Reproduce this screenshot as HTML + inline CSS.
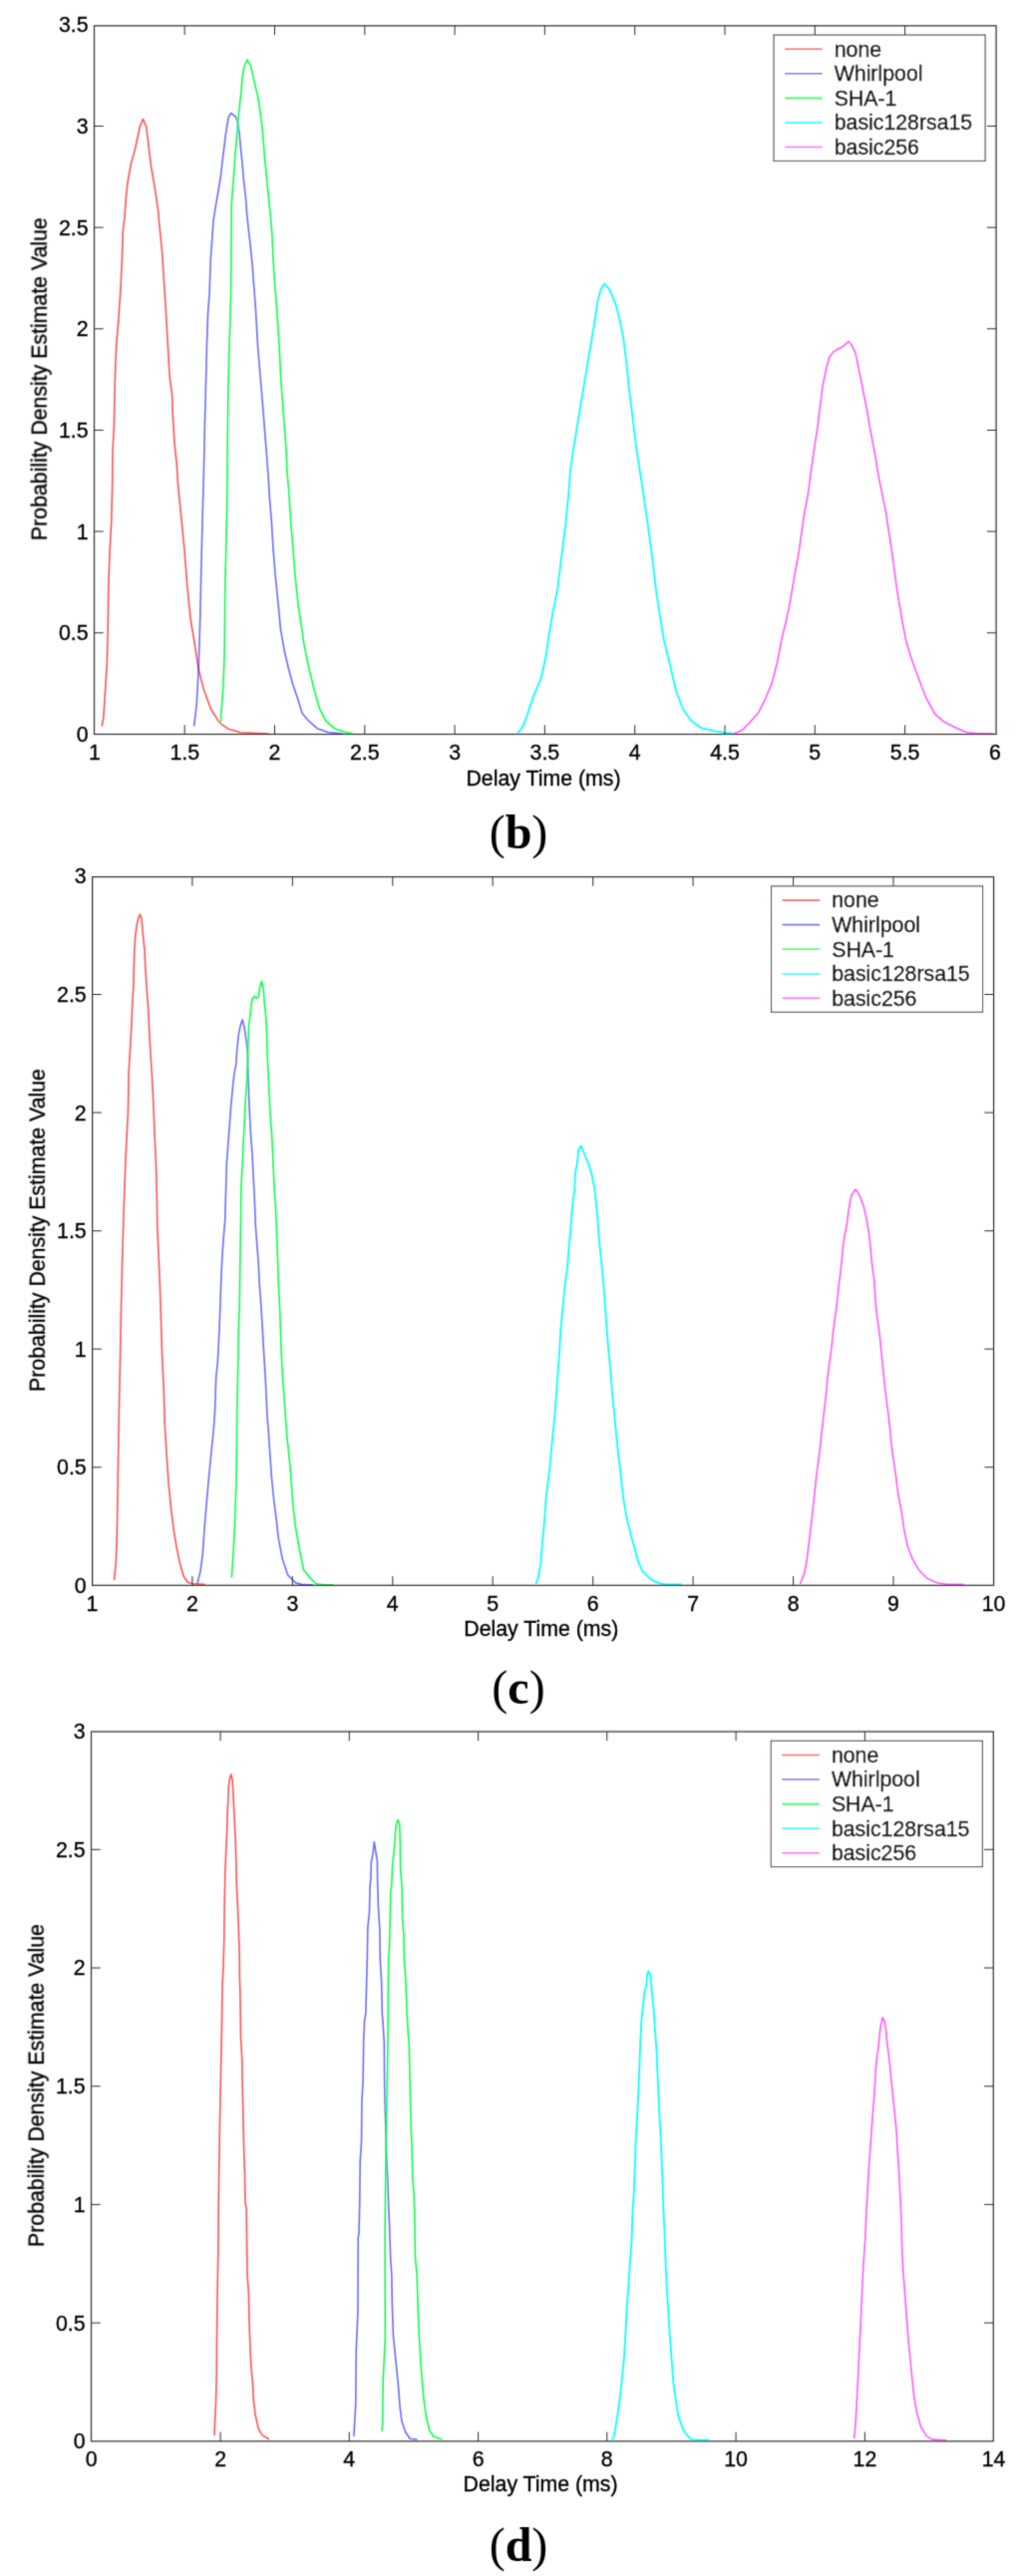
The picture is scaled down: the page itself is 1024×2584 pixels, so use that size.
<!DOCTYPE html>
<html><head><meta charset="utf-8"><style>
html,body{margin:0;padding:0;background:#fff;}
svg{display:block;will-change:transform;}
text{font-family:"Liberation Sans",sans-serif;font-size:21.3px;fill:#000;stroke:#000;stroke-width:0.35px;}
text.cap{font-family:"Liberation Serif",serif;font-size:48px;font-weight:bold;stroke:none;}
</style></head><body>
<svg width="1024" height="2584" viewBox="0 0 1024 2584">
<defs><filter id="bl" x="0" y="0" width="1" height="1" filterUnits="objectBoundingBox"><feConvolveMatrix order="3" kernelMatrix="0.0196 0.1008 0.0196 0.1008 0.5184 0.1008 0.0196 0.1008 0.0196" divisor="1" edgeMode="none" preserveAlpha="false"/></filter></defs>
<rect width="1024" height="2584" fill="#fff"/>
<g filter="url(#bl)">
<polyline points="102.1,728.6 103.8,719.8 105.6,691.6 107.3,665.1 108.2,629.9 108.8,589.3 110.0,554.0 111.7,524.1 112.7,485.0 112.9,454.5 114.4,426.3 115.0,393.4 115.9,362.9 116.7,346.4 118.5,325.3 120.6,295.0 122.3,262.2 123.2,232.8 125.0,217.5 126.7,194.0 128.5,179.9 131.4,164.1 135.5,149.4 140.3,127.0 143.4,119.4 146.7,127.0 149.1,147.0 151.4,165.8 155.0,187.0 158.5,210.5 160.2,229.3 162.6,252.8 164.3,280.0 166.1,308.0 168.5,348.8 170.2,378.2 172.6,395.8 173.2,414.6 174.9,442.8 177.3,466.3 178.4,485.0 181.4,515.3 184.9,550.5 187.6,585.8 191.1,621.0 195.5,647.5 199.0,670.4 204.3,691.6 211.4,711.0 220.2,725.1 229.0,731.2 241.3,734.8 269.5,736.0" fill="none" stroke="#ff0000" stroke-width="1.6" stroke-opacity="0.68" stroke-linejoin="round"/>
<polyline points="194.6,728.6 197.3,705.7 199.0,673.9 199.9,647.5 200.8,617.5 201.7,575.2 202.9,525.8 204.2,480.0 205.2,433.9 206.3,390.8 207.4,347.7 208.5,315.4 210.1,293.9 211.2,261.5 212.0,249.8 213.0,236.1 214.0,221.4 216.0,208.7 218.9,192.0 221.3,177.3 223.3,159.7 224.8,147.9 226.2,136.2 227.7,126.4 229.2,117.6 231.6,113.5 236.0,116.6 238.5,122.5 240.0,133.3 241.4,147.9 242.9,162.6 244.4,180.3 246.3,196.9 247.8,216.5 249.7,234.1 251.0,245.0 253.2,266.9 256.4,310.0 258.6,347.7 261.3,380.1 264.0,412.4 266.1,439.3 268.9,475.0 270.2,496.9 272.4,523.9 274.0,550.8 276.2,577.7 278.9,604.7 281.5,631.6 285.3,653.2 289.1,669.3 293.4,685.5 298.8,701.6 303.1,715.6 309.6,723.2 318.2,730.7 329.0,734.5 344.0,736.1" fill="none" stroke="#0000ff" stroke-width="1.6" stroke-opacity="0.58" stroke-linejoin="round"/>
<polyline points="221.1,725.1 223.7,691.6 225.1,656.3 225.8,585.8 227.2,531.1 227.9,480.0 228.2,444.7 228.9,390.8 230.0,347.7 231.6,293.9 231.9,249.8 232.1,206.7 233.6,187.1 235.1,167.5 236.0,152.8 237.5,138.1 238.5,123.5 240.0,108.8 241.9,92.1 242.9,79.4 244.8,66.7 248.0,59.8 251.7,66.7 255.6,84.3 258.6,97.0 260.5,108.8 262.5,123.5 263.9,138.1 265.4,157.7 267.4,177.3 269.3,196.9 271.3,216.5 272.8,234.1 273.3,245.0 274.7,272.3 278.0,315.4 280.1,347.7 281.7,380.1 284.4,417.8 286.6,444.7 288.1,475.0 289.6,491.5 291.8,523.9 293.9,550.8 296.1,577.7 298.8,604.7 302.0,626.2 305.2,647.8 309.6,669.3 314.9,690.9 320.3,710.3 326.8,723.2 335.4,730.7 346.2,734.5 353.7,735.9" fill="none" stroke="#00ff40" stroke-width="1.6" stroke-opacity="0.95" stroke-linejoin="round"/>
<polyline points="519.1,735.6 523.8,729.8 528.5,718.0 535.6,696.9 542.6,680.4 547.3,659.3 550.8,635.7 554.4,614.6 559.1,591.1 562.6,562.9 567.3,525.3 570.3,495.0 571.8,473.7 574.4,454.6 577.6,435.5 580.7,416.4 583.9,397.3 587.1,378.2 590.3,359.1 593.5,340.0 596.7,320.9 599.2,303.1 602.4,290.4 606.2,284.6 611.3,290.4 617.7,305.7 621.5,320.9 625.3,340.0 628.5,365.5 631.0,391.0 634.2,416.4 638.0,448.3 641.9,473.7 645.3,495.0 649.6,525.3 654.3,560.5 657.8,591.1 661.3,614.6 666.0,642.8 671.9,666.3 677.8,692.2 684.8,711.0 693.1,722.7 702.5,729.8 716.6,733.3 728.3,735.2 735.4,735.6" fill="none" stroke="#00ffff" stroke-width="1.8" stroke-opacity="0.95" stroke-linejoin="round"/>
<polyline points="736.0,735.9 744.2,732.6 752.4,724.3 760.7,714.7 767.5,701.0 774.4,684.6 779.9,662.6 784.0,640.7 788.1,624.2 792.2,605.0 796.3,580.3 801.3,552.9 804.0,533.7 806.3,517.0 810.4,495.5 812.9,476.4 815.5,457.3 817.4,444.6 819.9,429.3 821.8,412.8 823.4,400.0 825.0,387.3 828.2,372.0 831.4,359.3 835.8,352.9 840.9,349.7 846.0,347.2 850.9,342.5 853.7,345.3 857.5,352.9 859.4,360.6 861.3,370.7 863.8,382.2 866.4,396.2 869.6,411.5 872.1,426.8 874.7,440.8 877.9,457.3 879.8,470.0 882.9,486.6 886.1,501.9 888.7,514.6 890.4,527.0 893.7,547.4 899.2,588.6 904.6,621.5 908.8,643.4 912.9,657.1 919.7,676.3 928.0,698.3 937.6,716.1 947.2,724.3 958.1,729.8 969.1,734.5 980.1,735.9 996.5,735.9" fill="none" stroke="#ff00ff" stroke-width="1.6" stroke-opacity="0.65" stroke-linejoin="round"/>
<rect x="94.5" y="25.8" width="904.6" height="710.7" fill="none" stroke="#2a2a2a" stroke-width="1.2"/>
<text x="94.9" y="761.7" text-anchor="middle">1</text>
<path d="M185.2,736.45V727.25M185.2,25.8V35.0" stroke="#2a2a2a" stroke-width="1"/>
<text x="185.2" y="761.7" text-anchor="middle">1.5</text>
<path d="M275.5,736.45V727.25M275.5,25.8V35.0" stroke="#2a2a2a" stroke-width="1"/>
<text x="275.5" y="761.7" text-anchor="middle">2</text>
<path d="M365.8,736.45V727.25M365.8,25.8V35.0" stroke="#2a2a2a" stroke-width="1"/>
<text x="365.8" y="761.7" text-anchor="middle">2.5</text>
<path d="M456.1,736.45V727.25M456.1,25.8V35.0" stroke="#2a2a2a" stroke-width="1"/>
<text x="456.1" y="761.7" text-anchor="middle">3</text>
<path d="M546.4,736.45V727.25M546.4,25.8V35.0" stroke="#2a2a2a" stroke-width="1"/>
<text x="546.4" y="761.7" text-anchor="middle">3.5</text>
<path d="M636.7,736.45V727.25M636.7,25.8V35.0" stroke="#2a2a2a" stroke-width="1"/>
<text x="636.7" y="761.7" text-anchor="middle">4</text>
<path d="M727.0,736.45V727.25M727.0,25.8V35.0" stroke="#2a2a2a" stroke-width="1"/>
<text x="727.0" y="761.7" text-anchor="middle">4.5</text>
<path d="M817.3,736.45V727.25M817.3,25.8V35.0" stroke="#2a2a2a" stroke-width="1"/>
<text x="817.3" y="761.7" text-anchor="middle">5</text>
<path d="M907.6,736.45V727.25M907.6,25.8V35.0" stroke="#2a2a2a" stroke-width="1"/>
<text x="907.6" y="761.7" text-anchor="middle">5.5</text>
<text x="997.9" y="761.7" text-anchor="middle">6</text>
<text x="88.6" y="743.9" text-anchor="end">0</text>
<path d="M94.5,634.8H103.7M999.1,634.8H989.9" stroke="#2a2a2a" stroke-width="1"/>
<text x="88.6" y="642.2" text-anchor="end">0.5</text>
<path d="M94.5,533.1H103.7M999.1,533.1H989.9" stroke="#2a2a2a" stroke-width="1"/>
<text x="88.6" y="540.5" text-anchor="end">1</text>
<path d="M94.5,431.5H103.7M999.1,431.5H989.9" stroke="#2a2a2a" stroke-width="1"/>
<text x="88.6" y="438.9" text-anchor="end">1.5</text>
<path d="M94.5,329.8H103.7M999.1,329.8H989.9" stroke="#2a2a2a" stroke-width="1"/>
<text x="88.6" y="337.2" text-anchor="end">2</text>
<path d="M94.5,228.2H103.7M999.1,228.2H989.9" stroke="#2a2a2a" stroke-width="1"/>
<text x="88.6" y="235.6" text-anchor="end">2.5</text>
<path d="M94.5,126.5H103.7M999.1,126.5H989.9" stroke="#2a2a2a" stroke-width="1"/>
<text x="88.6" y="133.9" text-anchor="end">3</text>
<text x="88.6" y="32.2" text-anchor="end">3.5</text>
<text x="545.0" y="787.9" text-anchor="middle">Delay Time (ms)</text>
<text transform="translate(46.7,380.2) rotate(-90)" text-anchor="middle">Probability Density Estimate Value</text>
<rect x="776.1" y="35.1" width="212.0" height="126.3" fill="#fff" stroke="#2a2a2a" stroke-width="1"/>
<path d="M787.1,49.3H824.7" stroke="#ff0000" stroke-width="1.6" stroke-opacity="0.68"/>
<text x="836.7" y="56.6">none</text>
<path d="M787.1,73.8H824.7" stroke="#0000ff" stroke-width="1.6" stroke-opacity="0.58"/>
<text x="836.7" y="81.1">Whirlpool</text>
<path d="M787.1,98.4H824.7" stroke="#00ff40" stroke-width="1.6" stroke-opacity="0.95"/>
<text x="836.7" y="105.7">SHA-1</text>
<path d="M787.1,123.0H824.7" stroke="#00ffff" stroke-width="1.8" stroke-opacity="0.95"/>
<text x="836.7" y="130.2">basic128rsa15</text>
<path d="M787.1,147.5H824.7" stroke="#ff00ff" stroke-width="1.6" stroke-opacity="0.65"/>
<text x="836.7" y="154.8">basic256</text>
<text class="cap" x="520" y="851" text-anchor="middle"><tspan font-weight="normal">(</tspan>b<tspan font-weight="normal">)</tspan></text>
<polyline points="114.5,1585.0 116.2,1567.8 117.2,1544.1 117.8,1510.7 118.5,1465.4 119.4,1413.7 120.4,1370.0 121.2,1325.0 122.5,1268.7 123.4,1237.8 124.2,1211.4 125.1,1186.7 126.0,1162.9 127.3,1136.4 128.4,1115.0 129.1,1076.3 130.4,1054.3 131.7,1032.2 132.6,1010.2 133.9,988.2 134.4,966.1 134.8,952.9 135.7,939.7 137.0,929.1 138.8,920.3 140.5,917.2 141.9,921.2 143.2,935.3 145.0,952.9 145.8,970.5 147.2,992.6 148.9,1014.6 149.8,1036.6 151.1,1058.7 152.5,1080.7 153.8,1106.0 155.1,1139.1 156.4,1167.3 157.3,1198.2 157.7,1228.1 159.1,1259.9 160.4,1290.7 161.5,1325.0 162.5,1357.7 164.1,1390.0 165.2,1427.7 166.8,1454.7 169.0,1487.0 171.6,1513.9 174.3,1535.5 177.0,1551.6 180.3,1567.8 184.0,1580.7 188.3,1587.2 193.7,1588.8 205.6,1589.3" fill="none" stroke="#ff0000" stroke-width="1.6" stroke-opacity="0.68" stroke-linejoin="round"/>
<polyline points="197.8,1588.7 201.0,1576.1 203.3,1558.9 204.9,1535.4 207.2,1507.2 209.6,1480.5 211.9,1457.0 214.3,1433.5 215.6,1415.0 216.7,1381.0 218.1,1369.2 219.1,1351.6 220.1,1330.1 221.1,1303.6 222.0,1278.1 223.0,1258.6 224.0,1243.9 225.7,1224.3 226.5,1195.0 227.4,1165.9 228.9,1146.3 230.4,1126.7 231.8,1107.1 233.3,1092.4 234.8,1077.7 236.7,1067.9 237.7,1053.3 239.2,1038.6 241.1,1028.8 243.1,1022.9 245.1,1030.7 247.0,1043.5 248.5,1058.1 249.0,1077.7 249.5,1097.3 250.4,1116.9 251.4,1136.5 252.9,1156.1 253.9,1175.7 254.9,1195.0 255.6,1209.6 256.3,1229.2 257.8,1248.8 259.3,1268.4 260.2,1287.9 261.7,1307.5 263.2,1332.0 264.6,1356.5 266.1,1381.0 267.1,1400.6 268.0,1420.0 269.1,1433.5 270.7,1457.0 272.3,1480.5 274.6,1504.0 277.0,1522.8 279.3,1543.2 283.2,1563.6 288.7,1580.0 296.6,1587.9 302.8,1589.4 313.8,1589.9" fill="none" stroke="#0000ff" stroke-width="1.6" stroke-opacity="0.58" stroke-linejoin="round"/>
<polyline points="232.3,1582.4 233.9,1558.9 235.4,1530.7 237.0,1485.2 237.8,1415.0 238.7,1369.2 239.2,1336.9 240.2,1309.5 240.9,1260.5 241.6,1219.4 241.8,1195.0 242.1,1185.5 243.1,1165.9 244.1,1146.3 245.1,1126.7 246.0,1107.1 247.5,1087.5 248.2,1067.9 248.8,1048.4 249.5,1028.8 250.9,1019.0 251.9,1009.2 252.9,1002.3 254.8,999.4 257.3,1001.3 259.3,999.4 260.7,989.6 262.5,984.2 264.2,991.5 265.1,1004.3 266.6,1019.0 267.6,1038.6 268.1,1058.1 269.1,1077.7 270.0,1097.3 271.0,1116.9 272.5,1136.5 273.5,1156.1 274.4,1175.7 275.2,1195.0 276.4,1209.6 277.4,1234.1 278.4,1258.6 279.3,1287.9 280.8,1317.3 281.8,1346.7 282.8,1371.2 284.2,1390.8 285.6,1412.0 287.9,1441.3 291.1,1472.7 293.4,1504.0 295.8,1527.5 299.7,1551.0 304.4,1574.5 310.7,1582.4 316.9,1588.7 324.8,1589.9 335.0,1589.9" fill="none" stroke="#00ff40" stroke-width="1.6" stroke-opacity="0.95" stroke-linejoin="round"/>
<polyline points="537.5,1589.0 540.0,1581.6 542.5,1566.6 544.2,1544.9 545.8,1528.3 547.5,1503.3 550.0,1483.3 551.8,1468.0 554.2,1440.8 556.4,1419.3 558.0,1397.7 559.6,1376.2 561.2,1354.6 562.3,1333.1 564.5,1311.5 566.0,1295.0 567.5,1281.6 569.1,1271.1 570.6,1250.1 572.2,1234.4 573.3,1218.7 574.8,1203.0 576.4,1192.5 576.9,1176.8 579.0,1166.3 580.1,1153.7 582.5,1149.5 584.3,1152.6 587.4,1161.0 590.6,1168.4 593.7,1178.8 596.3,1192.5 597.9,1208.2 599.5,1223.9 600.5,1239.6 602.1,1255.4 603.7,1271.1 605.3,1288.0 607.0,1311.5 608.6,1333.1 610.3,1354.6 612.4,1376.2 614.0,1397.7 616.2,1419.3 618.3,1440.8 620.5,1462.4 622.2,1475.0 623.2,1486.7 625.7,1506.6 629.1,1524.9 633.2,1541.6 637.4,1556.6 640.7,1568.2 644.9,1576.6 651.5,1583.2 659.9,1587.9 668.2,1589.5 684.0,1589.5" fill="none" stroke="#00ffff" stroke-width="1.8" stroke-opacity="0.95" stroke-linejoin="round"/>
<polyline points="802.5,1589.0 806.7,1578.1 809.2,1564.8 811.7,1544.8 814.2,1523.2 816.6,1501.6 819.1,1478.2 821.6,1459.9 824.1,1436.6 826.6,1415.0 828.8,1395.0 830.1,1380.8 832.0,1366.1 834.0,1351.4 835.5,1336.7 837.4,1322.0 839.4,1307.3 840.9,1292.6 842.8,1277.9 844.3,1263.3 845.7,1248.6 847.2,1238.8 849.2,1229.0 851.1,1214.3 852.6,1205.5 854.1,1198.6 857.7,1193.2 860.4,1195.7 863.4,1202.5 866.3,1210.4 868.3,1219.2 870.2,1229.0 871.7,1238.8 873.2,1253.5 874.6,1268.1 876.6,1282.8 877.6,1297.5 878.6,1312.2 880.5,1326.9 882.5,1341.6 884.4,1361.2 886.4,1380.8 887.9,1395.0 889.9,1410.0 892.4,1431.6 894.9,1456.6 898.2,1478.2 900.7,1498.2 904.1,1516.5 906.6,1533.2 909.9,1549.8 914.9,1563.2 921.5,1574.8 929.9,1583.1 939.9,1587.8 949.8,1589.3 966.5,1589.3" fill="none" stroke="#ff00ff" stroke-width="1.6" stroke-opacity="0.65" stroke-linejoin="round"/>
<rect x="92.6" y="879.6" width="904.0" height="710.7" fill="none" stroke="#2a2a2a" stroke-width="1.2"/>
<text x="92.5" y="1615.5" text-anchor="middle">1</text>
<path d="M192.9,1590.3V1581.1M192.9,879.6V888.8000000000001" stroke="#2a2a2a" stroke-width="1"/>
<text x="192.9" y="1615.5" text-anchor="middle">2</text>
<path d="M293.4,1590.3V1581.1M293.4,879.6V888.8000000000001" stroke="#2a2a2a" stroke-width="1"/>
<text x="293.4" y="1615.5" text-anchor="middle">3</text>
<path d="M393.8,1590.3V1581.1M393.8,879.6V888.8000000000001" stroke="#2a2a2a" stroke-width="1"/>
<text x="393.8" y="1615.5" text-anchor="middle">4</text>
<path d="M494.2,1590.3V1581.1M494.2,879.6V888.8000000000001" stroke="#2a2a2a" stroke-width="1"/>
<text x="494.2" y="1615.5" text-anchor="middle">5</text>
<path d="M594.7,1590.3V1581.1M594.7,879.6V888.8000000000001" stroke="#2a2a2a" stroke-width="1"/>
<text x="594.7" y="1615.5" text-anchor="middle">6</text>
<path d="M695.1,1590.3V1581.1M695.1,879.6V888.8000000000001" stroke="#2a2a2a" stroke-width="1"/>
<text x="695.1" y="1615.5" text-anchor="middle">7</text>
<path d="M795.6,1590.3V1581.1M795.6,879.6V888.8000000000001" stroke="#2a2a2a" stroke-width="1"/>
<text x="795.6" y="1615.5" text-anchor="middle">8</text>
<path d="M896.0,1590.3V1581.1M896.0,879.6V888.8000000000001" stroke="#2a2a2a" stroke-width="1"/>
<text x="896.0" y="1615.5" text-anchor="middle">9</text>
<text x="996.5" y="1615.5" text-anchor="middle">10</text>
<text x="86.7" y="1597.7" text-anchor="end">0</text>
<path d="M92.6,1471.8H101.8M996.6,1471.8H987.4" stroke="#2a2a2a" stroke-width="1"/>
<text x="86.7" y="1479.2" text-anchor="end">0.5</text>
<path d="M92.6,1353.2H101.8M996.6,1353.2H987.4" stroke="#2a2a2a" stroke-width="1"/>
<text x="86.7" y="1360.6" text-anchor="end">1</text>
<path d="M92.6,1234.7H101.8M996.6,1234.7H987.4" stroke="#2a2a2a" stroke-width="1"/>
<text x="86.7" y="1242.1" text-anchor="end">1.5</text>
<path d="M92.6,1116.1H101.8M996.6,1116.1H987.4" stroke="#2a2a2a" stroke-width="1"/>
<text x="86.7" y="1123.5" text-anchor="end">2</text>
<path d="M92.6,997.5H101.8M996.6,997.5H987.4" stroke="#2a2a2a" stroke-width="1"/>
<text x="86.7" y="1004.9" text-anchor="end">2.5</text>
<text x="86.7" y="886.4" text-anchor="end">3</text>
<text x="542.8" y="1641.1" text-anchor="middle">Delay Time (ms)</text>
<text transform="translate(44.8,1233.95) rotate(-90)" text-anchor="middle">Probability Density Estimate Value</text>
<rect x="773.6" y="888.9" width="212.0" height="126.3" fill="#fff" stroke="#2a2a2a" stroke-width="1"/>
<path d="M784.6,903.1H822.2" stroke="#ff0000" stroke-width="1.6" stroke-opacity="0.68"/>
<text x="834.2" y="910.4">none</text>
<path d="M784.6,927.6H822.2" stroke="#0000ff" stroke-width="1.6" stroke-opacity="0.58"/>
<text x="834.2" y="934.9">Whirlpool</text>
<path d="M784.6,952.2H822.2" stroke="#00ff40" stroke-width="1.6" stroke-opacity="0.95"/>
<text x="834.2" y="959.5">SHA-1</text>
<path d="M784.6,976.8H822.2" stroke="#00ffff" stroke-width="1.8" stroke-opacity="0.95"/>
<text x="834.2" y="984.0">basic128rsa15</text>
<path d="M784.6,1001.3H822.2" stroke="#ff00ff" stroke-width="1.6" stroke-opacity="0.65"/>
<text x="834.2" y="1008.6">basic256</text>
<text class="cap" x="520" y="1708.5" text-anchor="middle"><tspan font-weight="normal">(</tspan>c<tspan font-weight="normal">)</tspan></text>
<polyline points="215.0,2442.9 215.5,2430.2 216.5,2410.8 217.3,2379.8 217.5,2345.8 218.0,2302.1 218.9,2253.5 219.2,2210.0 220.4,2132.3 221.4,2083.2 222.3,2038.6 223.0,1993.9 224.1,1970.4 224.8,1943.6 225.0,1921.3 225.4,1898.9 225.9,1876.6 226.8,1854.3 227.7,1836.4 228.1,1818.6 228.8,1805.2 229.3,1791.8 230.4,1784.6 231.7,1779.7 233.0,1784.6 233.8,1796.3 234.4,1809.6 235.3,1827.5 236.2,1845.4 236.8,1867.7 237.3,1890.0 238.4,1912.3 239.3,1934.6 240.2,1961.4 240.4,1985.0 240.9,2000.2 241.5,2043.0 242.7,2065.4 243.6,2110.0 244.6,2154.6 245.5,2181.4 246.0,2210.0 247.1,2214.7 247.6,2248.7 248.1,2282.7 249.5,2302.1 250.0,2331.2 251.0,2355.5 251.9,2374.9 253.4,2389.5 254.4,2408.9 256.3,2423.4 259.2,2436.1 263.1,2442.9 269.9,2446.7" fill="none" stroke="#ff0000" stroke-width="1.6" stroke-opacity="0.68" stroke-linejoin="round"/>
<polyline points="354.9,2444.0 355.6,2431.1 356.7,2412.8 357.2,2358.9 358.9,2319.0 359.2,2245.0 360.0,2240.0 360.7,2211.4 361.2,2168.6 362.5,2148.9 362.9,2108.8 364.1,2086.4 364.7,2046.3 365.6,2026.6 366.8,2020.0 367.4,1997.7 368.3,1964.6 368.8,1934.3 370.5,1917.3 371.0,1893.2 371.9,1884.3 372.3,1868.2 373.9,1860.2 375.4,1847.7 376.8,1857.5 378.4,1866.4 378.6,1887.0 379.5,1914.6 380.8,1934.3 381.3,1967.3 382.6,1987.0 383.3,2020.0 383.9,2026.6 385.3,2048.9 385.7,2093.6 386.2,2113.2 387.5,2157.9 388.4,2177.5 389.7,2214.1 390.6,2232.0 391.7,2266.2 392.8,2281.3 393.3,2310.4 394.4,2342.7 396.6,2364.3 398.2,2380.4 399.8,2396.6 400.9,2412.8 403.0,2428.9 406.8,2439.7 411.1,2446.2 418.6,2447.0" fill="none" stroke="#0000ff" stroke-width="1.6" stroke-opacity="0.58" stroke-linejoin="round"/>
<polyline points="382.9,2438.6 383.6,2432.2 384.2,2388.0 386.3,2344.9 386.1,2240.0 386.6,2193.6 387.1,2157.9 387.9,2108.8 388.8,2059.6 389.2,2020.0 389.3,1995.9 389.7,1964.6 390.6,1951.3 391.3,1922.7 391.8,1897.7 392.9,1888.8 393.6,1870.9 394.6,1862.0 396.0,1846.8 396.9,1832.5 398.9,1825.4 400.7,1828.9 401.3,1848.6 401.6,1875.4 403.1,1893.2 403.6,1924.5 404.9,1939.6 405.4,1967.3 406.7,1982.5 407.6,2004.8 408.2,2020.0 408.9,2032.9 410.3,2052.5 411.2,2090.9 412.1,2131.1 412.9,2148.9 413.8,2184.6 415.2,2202.5 416.1,2240.0 416.5,2265.2 418.1,2281.3 419.2,2315.8 420.3,2342.7 421.9,2369.7 423.5,2391.2 425.1,2407.4 427.3,2423.5 430.5,2437.5 434.8,2444.0 443.4,2447.0" fill="none" stroke="#00ff40" stroke-width="1.6" stroke-opacity="0.95" stroke-linejoin="round"/>
<polyline points="613.9,2447.7 615.9,2443.0 617.6,2433.6 620.0,2418.3 622.3,2400.7 624.1,2383.1 625.9,2365.4 627.6,2336.0 628.8,2312.5 630.6,2289.0 631.7,2271.4 633.5,2247.9 634.7,2212.6 635.8,2200.0 636.0,2192.9 637.0,2168.6 637.5,2149.2 638.9,2124.9 640.4,2095.8 641.4,2071.5 642.3,2047.2 643.3,2027.8 644.8,2013.3 646.2,1998.7 648.2,1991.9 649.1,1980.2 650.4,1977.3 652.0,1980.2 653.0,1989.0 654.0,2000.6 655.4,2013.3 656.4,2027.8 657.4,2042.4 658.6,2057.9 659.3,2076.4 660.3,2098.7 661.3,2120.0 662.7,2144.3 663.7,2168.6 664.7,2195.0 665.2,2212.6 666.4,2236.1 667.6,2271.4 668.8,2294.9 669.9,2312.5 671.7,2341.9 673.5,2365.4 675.2,2388.9 677.6,2406.6 680.5,2424.2 684.6,2436.0 689.3,2443.0 694.0,2447.1 702.3,2447.7 711.7,2447.7" fill="none" stroke="#00ffff" stroke-width="1.8" stroke-opacity="0.95" stroke-linejoin="round"/>
<polyline points="856.5,2446.0 857.6,2436.6 858.8,2418.9 859.7,2401.3 860.9,2377.8 862.3,2348.4 863.5,2324.9 864.7,2295.5 865.9,2272.0 867.6,2248.5 868.4,2230.0 868.8,2219.3 870.0,2201.4 870.9,2183.6 872.0,2165.7 873.3,2147.9 874.6,2130.0 876.0,2112.1 877.3,2094.3 878.2,2076.4 879.6,2063.0 880.9,2054.1 882.2,2040.7 883.4,2031.8 885.2,2023.8 887.1,2027.3 888.5,2036.3 889.8,2049.6 891.2,2060.4 892.5,2072.0 893.8,2085.4 895.2,2098.8 896.5,2112.1 897.9,2125.5 899.2,2138.9 900.1,2156.8 901.4,2174.6 902.3,2192.5 903.2,2210.4 904.1,2228.0 904.6,2254.4 905.8,2277.9 907.6,2301.4 909.3,2324.9 911.1,2348.4 912.9,2366.0 914.6,2383.7 916.4,2401.3 919.3,2418.9 923.5,2434.2 929.3,2443.6 935.2,2447.1 949.3,2447.7" fill="none" stroke="#ff00ff" stroke-width="1.6" stroke-opacity="0.65" stroke-linejoin="round"/>
<rect x="91.5" y="1737.0" width="904.8" height="711.8" fill="none" stroke="#2a2a2a" stroke-width="1.2"/>
<text x="91.8" y="2474.0" text-anchor="middle">0</text>
<path d="M221.1,2448.8V2439.6000000000004M221.1,1737.0V1746.2" stroke="#2a2a2a" stroke-width="1"/>
<text x="221.1" y="2474.0" text-anchor="middle">2</text>
<path d="M350.3,2448.8V2439.6000000000004M350.3,1737.0V1746.2" stroke="#2a2a2a" stroke-width="1"/>
<text x="350.3" y="2474.0" text-anchor="middle">4</text>
<path d="M479.6,2448.8V2439.6000000000004M479.6,1737.0V1746.2" stroke="#2a2a2a" stroke-width="1"/>
<text x="479.6" y="2474.0" text-anchor="middle">6</text>
<path d="M608.8,2448.8V2439.6000000000004M608.8,1737.0V1746.2" stroke="#2a2a2a" stroke-width="1"/>
<text x="608.8" y="2474.0" text-anchor="middle">8</text>
<path d="M738.1,2448.8V2439.6000000000004M738.1,1737.0V1746.2" stroke="#2a2a2a" stroke-width="1"/>
<text x="738.1" y="2474.0" text-anchor="middle">10</text>
<path d="M867.4,2448.8V2439.6000000000004M867.4,1737.0V1746.2" stroke="#2a2a2a" stroke-width="1"/>
<text x="867.4" y="2474.0" text-anchor="middle">12</text>
<text x="996.6" y="2474.0" text-anchor="middle">14</text>
<text x="85.6" y="2456.2" text-anchor="end">0</text>
<path d="M91.5,2330.1H100.7M996.3,2330.1H987.0999999999999" stroke="#2a2a2a" stroke-width="1"/>
<text x="85.6" y="2337.5" text-anchor="end">0.5</text>
<path d="M91.5,2211.4H100.7M996.3,2211.4H987.0999999999999" stroke="#2a2a2a" stroke-width="1"/>
<text x="85.6" y="2218.8" text-anchor="end">1</text>
<path d="M91.5,2092.7H100.7M996.3,2092.7H987.0999999999999" stroke="#2a2a2a" stroke-width="1"/>
<text x="85.6" y="2100.1" text-anchor="end">1.5</text>
<path d="M91.5,1974.0H100.7M996.3,1974.0H987.0999999999999" stroke="#2a2a2a" stroke-width="1"/>
<text x="85.6" y="1981.4" text-anchor="end">2</text>
<path d="M91.5,1855.3H100.7M996.3,1855.3H987.0999999999999" stroke="#2a2a2a" stroke-width="1"/>
<text x="85.6" y="1862.7" text-anchor="end">2.5</text>
<text x="85.6" y="1744.0" text-anchor="end">3</text>
<text x="542.1" y="2499.2" text-anchor="middle">Delay Time (ms)</text>
<text transform="translate(43.7,2091.9) rotate(-90)" text-anchor="middle">Probability Density Estimate Value</text>
<rect x="773.3" y="1746.3" width="212.0" height="126.3" fill="#fff" stroke="#2a2a2a" stroke-width="1"/>
<path d="M784.3,1760.5H821.9" stroke="#ff0000" stroke-width="1.6" stroke-opacity="0.68"/>
<text x="833.9" y="1767.8">none</text>
<path d="M784.3,1785.0H821.9" stroke="#0000ff" stroke-width="1.6" stroke-opacity="0.58"/>
<text x="833.9" y="1792.3">Whirlpool</text>
<path d="M784.3,1809.6H821.9" stroke="#00ff40" stroke-width="1.6" stroke-opacity="0.95"/>
<text x="833.9" y="1816.9">SHA-1</text>
<path d="M784.3,1834.2H821.9" stroke="#00ffff" stroke-width="1.8" stroke-opacity="0.95"/>
<text x="833.9" y="1841.5">basic128rsa15</text>
<path d="M784.3,1858.7H821.9" stroke="#ff00ff" stroke-width="1.6" stroke-opacity="0.65"/>
<text x="833.9" y="1866.0">basic256</text>
<text class="cap" x="520" y="2568.7" text-anchor="middle"><tspan font-weight="normal">(</tspan>d<tspan font-weight="normal">)</tspan></text>
</g>
</svg></body></html>
